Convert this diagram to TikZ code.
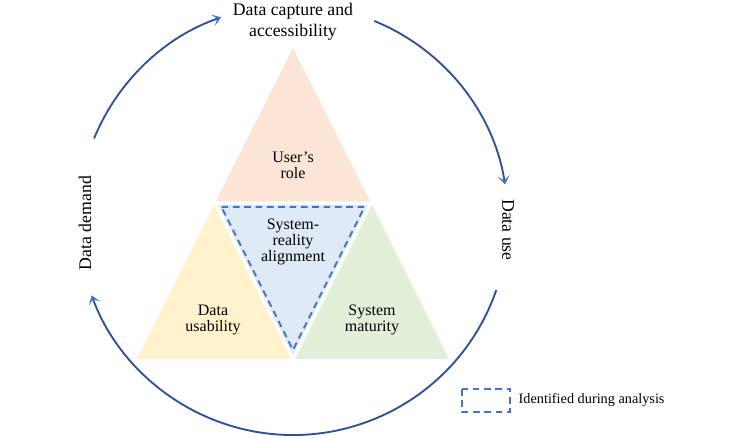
\documentclass[tikz,border=0pt]{standalone}
\usepackage{fontspec}
\setmainfont{Liberation Serif}
\usetikzlibrary{arrows.meta}

\definecolor{cyclinecol}{RGB}{47,82,150}
\definecolor{tipcol}{RGB}{68,114,196}
\definecolor{peachfill}{RGB}{251,229,214}
\definecolor{yellowfill}{RGB}{255,242,204}
\definecolor{bluefill}{RGB}{222,235,247}
\definecolor{greenfill}{RGB}{226,240,217}

\begin{document}
\begin{tikzpicture}[x=0.75pt,y=0.75pt,
    cycarrow/.style={cyclinecol, line width=1.4pt,
        -{Stealth[length=6.5pt,width=9pt,inset=3.5pt,color=tipcol,sep=1.5pt]}},
    outerlabel/.style={font=\fontsize{13.3}{15.8}\selectfont, align=center},
    innerlabel/.style={font=\fontsize{12}{11.8}\selectfont, align=center},
    identified/.style={tipcol, dashed, line width=1.5pt, dash pattern=on 5pt off 3.5pt}]
    \useasboundingbox (0,0) rectangle (733,438);

    % Corner points of the triangles
    \coordinate (apex) at (293,390);
    \coordinate (ml) at (215,235);
    \coordinate (mr) at (371,235);
    \coordinate (bl) at (137,79);
    \coordinate (bm) at (293,79);
    \coordinate (br) at (449,79);
    \coordinate (cyc) at (293,218);

    % Filled triangles
    \fill[peachfill] (apex) -- (ml) -- (mr) -- cycle;
    \fill[yellowfill] (ml) -- (bl) -- (bm) -- cycle;
    \fill[greenfill] (mr) -- (bm) -- (br) -- cycle;
    \fill[bluefill] (ml) -- (mr) -- (bm) -- cycle;

    % White gaps between the triangles
    \draw[white, line width=2.5pt, line join=miter] (ml) -- (mr) -- (bm) -- cycle;

    % Dashed outline of the middle triangle
    \draw[identified] (221.5,231) -- (364.5,231) -- (293,88) -- cycle;

    % Labels inside the triangles
    \node[innerlabel] (role) at (293,273) {User's\\role};
    \node[innerlabel] (align) at (293,196) {System-\\reality\\alignment};
    \node[innerlabel] (usab) at (213,118) {Data\\usability};
    \node[innerlabel] (matur) at (372,118) {System\\maturity};

    % Labels of the cycle
    \node[outerlabel] (capture) at (293,416) {Data capture and\\accessibility};
    \node[outerlabel, rotate=-90] (use) at (508,208) {Data use};
    \node[outerlabel, rotate=90] (demand) at (85,215) {Data demand};

    % Arrows of the cycle
    \draw[cycarrow] (cyc) ++(157.7:215) arc[start angle=157.7, end angle=109, radius=215];
    \draw[cycarrow] (cyc) ++(67.8:215) arc[start angle=67.8, end angle=9, radius=215];
    \draw[cycarrow] (cyc) ++(-19:215) arc[start angle=-19, end angle=-160, radius=215];

    % Legend
    \draw[identified] (462,49) rectangle (510,26);
    \node[anchor=west, font=\fontsize{10.7}{12}\selectfont] (legend) at (514,38) {Identified during analysis};
\end{tikzpicture}
\end{document}
